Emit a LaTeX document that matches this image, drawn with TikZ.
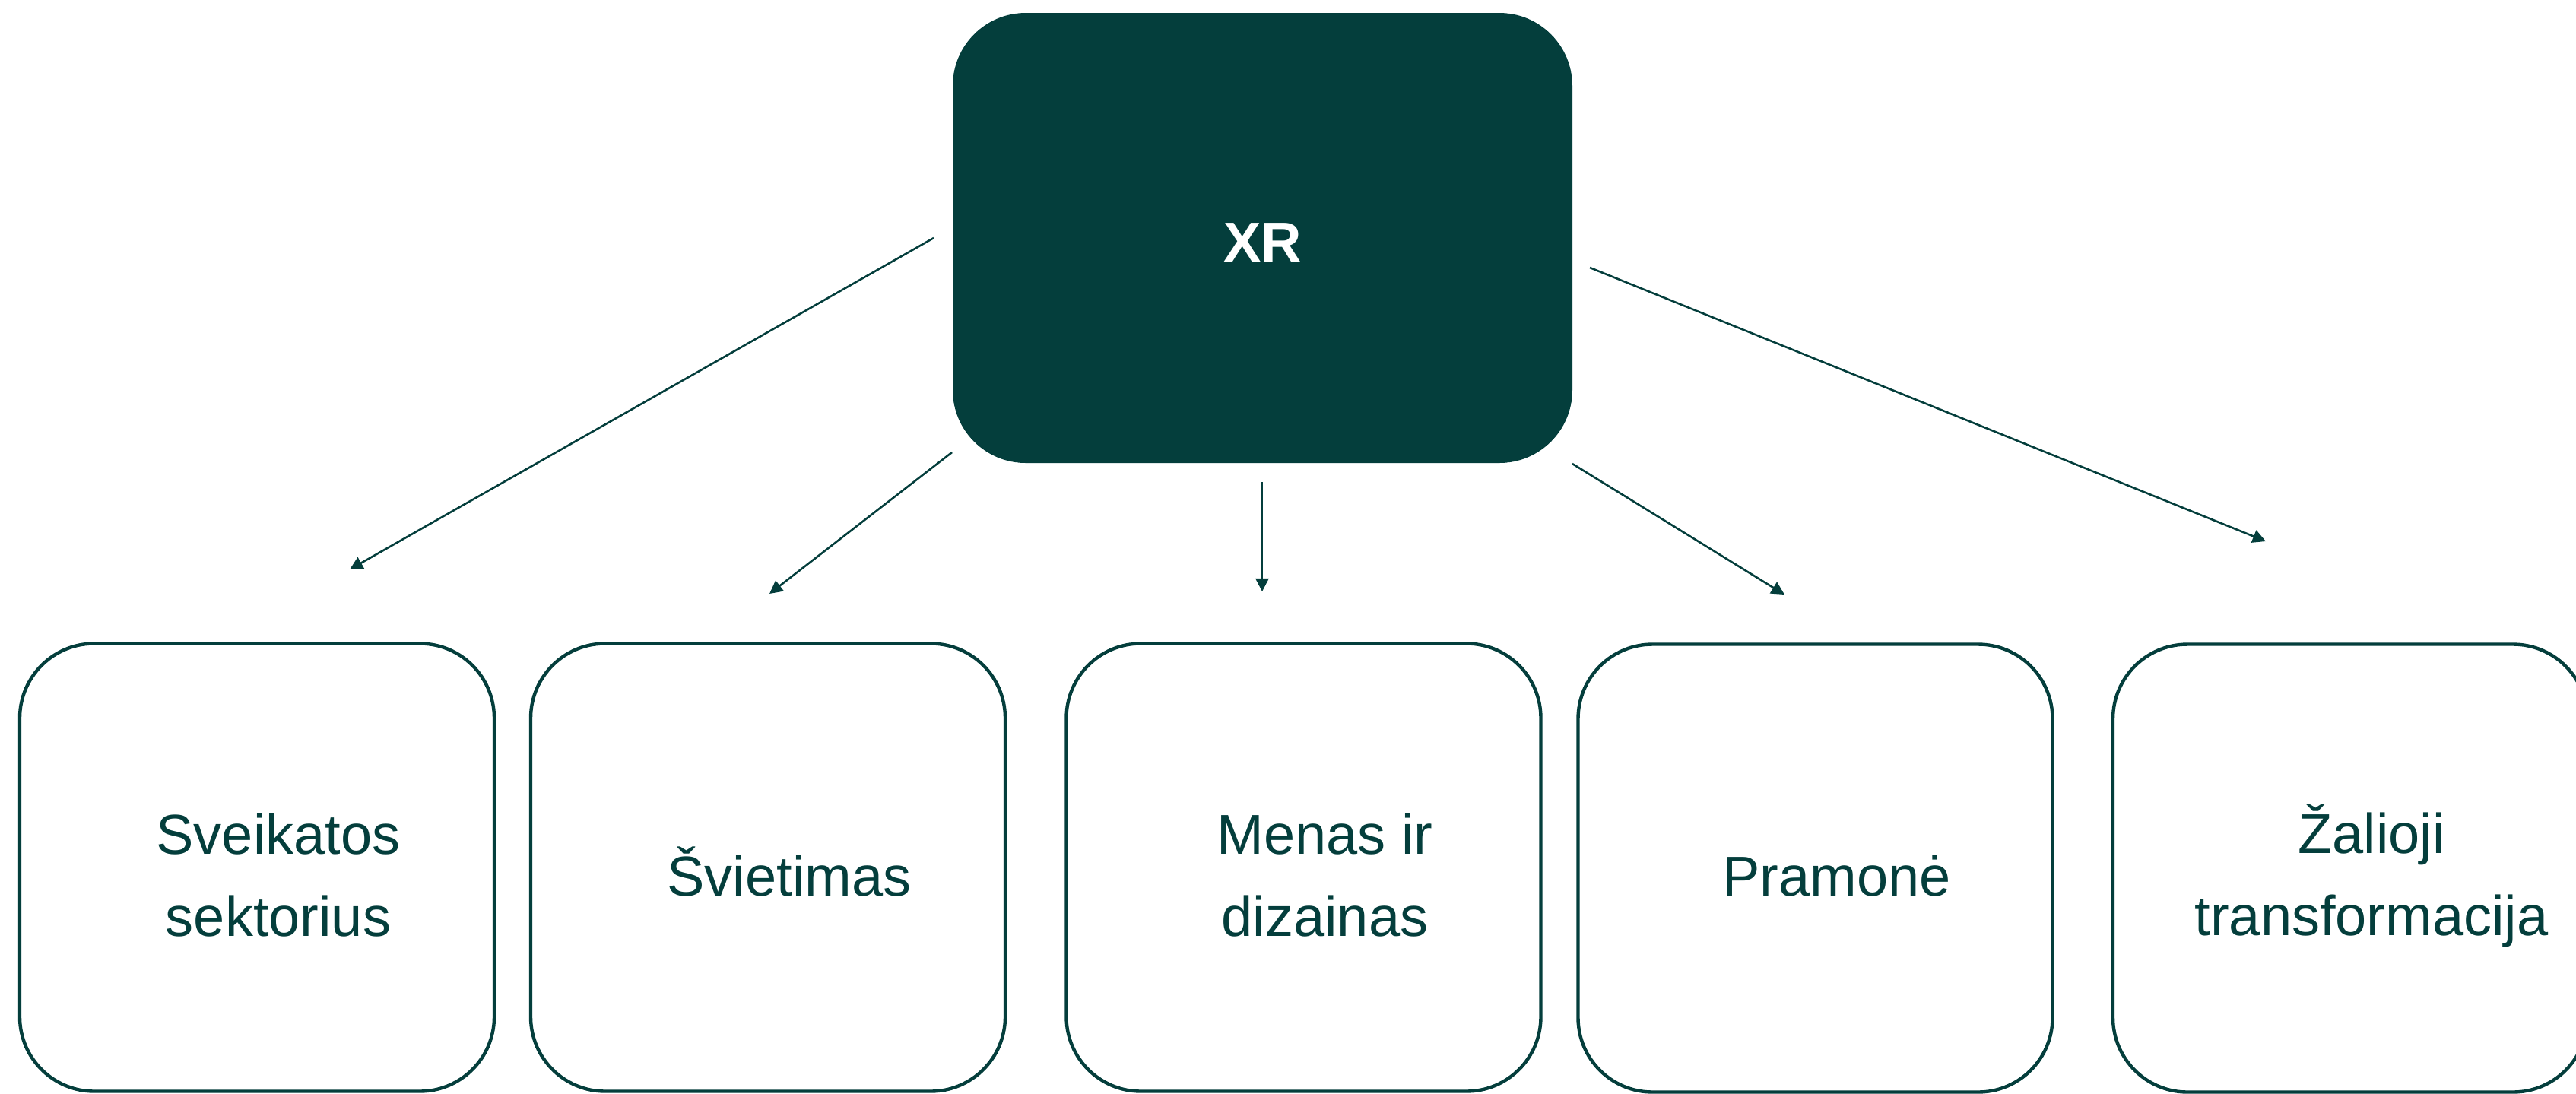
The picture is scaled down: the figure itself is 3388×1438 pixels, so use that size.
\documentclass[tikz,border=0pt]{standalone}
\usepackage{fontspec}
\setmainfont{Liberation Sans}
\usepackage{tikz}
\usetikzlibrary{calc,positioning,arrows.meta,shapes}
\definecolor{xrgreen}{HTML}{043E3C}

\begin{document}
\begin{tikzpicture}[x=0.25pt,y=-0.25pt,
    topbox/.style={fill=xrgreen,rounded corners=24pt,minimum width=203.75pt,minimum height=148pt,
                   text=white,font=\fontsize{18.5}{27}\selectfont\bfseries},
    areabox/.style={draw=xrgreen,line width=1.1pt,rounded corners=24.5pt,minimum width=156pt,minimum height=147.25pt},
    areatext/.style={text=xrgreen,align=center,font=\fontsize{18.5}{27}\selectfont},
    arr/.style={draw=xrgreen,line width=0.65pt,-{Triangle[length=4.3pt,width=4.3pt]}}]
                  \clip (0,0) rectangle (3388,1438);
                  % top
                  \node[topbox] (xr) at (1660.5,313) {};
                  \node[text=white,font=\fontsize{18.5}{27}\selectfont\bfseries] (xrtext) at ([yshift=-1.5pt]xr.center) {XR};
                  % areas
                  \node[areabox] (b1) at (338,1141) {};
                  \node[areabox] (b2) at (1010,1141) {};
                  \node[areabox] (b3) at (1714.5,1141) {};
                  \node[areabox] (b4) at (2387.5,1142) {};
                  \node[areabox] (b5) at (3091,1142) {};
                  \node[areatext] (t1) at ([xshift=7pt,yshift=-2.5pt]b1.center) {Sveikatos\\sektorius};
                  \node[areatext] (t2) at ([xshift=7pt,yshift=-1.5pt]b2.center) {Švietimas};
                  \node[areatext] (t3) at ([xshift=7pt,yshift=-2.5pt]b3.center) {Menas ir\\dizainas};
                  \node[areatext] (t4) at ([xshift=7pt,yshift=-2.5pt]b4.center) {Pramonė};
                  \node[areatext] (t5) at ([xshift=7pt,yshift=-2.5pt]b5.center) {Žalioji\\transformacija};
                  % arrow ends
                  \coordinate (s1) at (1228,313);
                  \coordinate (s2) at (1252,595);
                  \coordinate (s3) at (1660,634);
                  \coordinate (s4) at (2068,610);
                  \coordinate (s5) at (2091,352);
                  \coordinate (e1) at (460,749);
                  \coordinate (e2) at (1012,781);
                  \coordinate (e3) at (1660,778);
                  \coordinate (e4) at (2347,782);
                  \coordinate (e5) at (2980,712);
                  \foreach \i in {1,...,5}
                      \draw[arr] (s\i) -- (e\i);
              \end{tikzpicture}
\end{document}
